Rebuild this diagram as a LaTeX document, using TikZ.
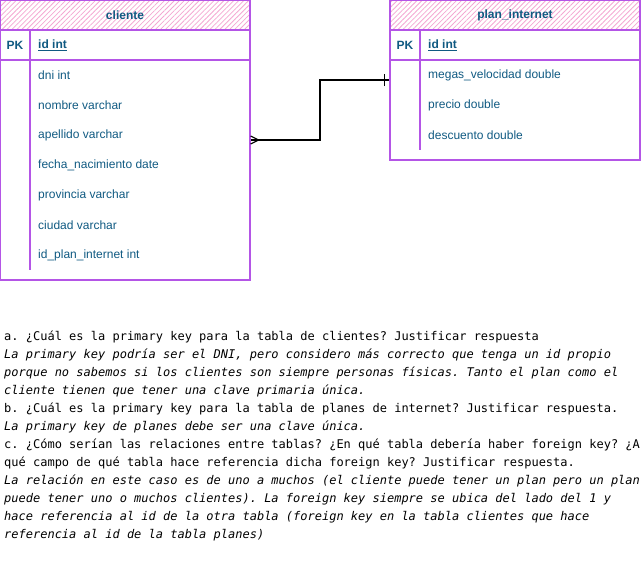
\documentclass[tikz,border=0pt]{standalone}
\usepackage{fontspec}
\setmainfont{Liberation Sans}
\newfontfamily\monofont{DejaVu Sans Mono}
\usetikzlibrary{patterns.meta}
\definecolor{tblborder}{HTML}{B455E6}
\definecolor{hatch}{HTML}{F4A7D2}
\definecolor{fieldtxt}{HTML}{105A82}
\tikzset{
  x=1pt,y=-1pt,
  tblbox/.style={draw=tblborder,line width=1.1pt,inner sep=0pt,minimum width=250pt},
  hdrbox/.style={tblbox,pattern={Lines[angle=45,distance=3.5pt,line width=0.8pt]},pattern color=hatch,minimum height=30pt},
  hdrtxt/.style={text=fieldtxt,font=\fontsize{12}{14}\selectfont\bfseries,inner sep=0pt},
  fieldtxt/.style={text=fieldtxt,font=\fontsize{12}{14}\selectfont,anchor=west,inner sep=0pt},
  divider/.style={draw=tblborder,line width=1.1pt},
  conn/.style={draw=black,line width=1.1pt},
  qline/.style={anchor=base west,inner sep=0pt,font=\monofont\frenchspacing\fontsize{12}{18}\selectfont},
  aline/.style={qline,font=\monofont\frenchspacing\itshape\fontsize{12}{18}\selectfont},
}
\begin{document}
\frenchspacing
\begin{tikzpicture}
\useasboundingbox (0,0) rectangle (641,571);
% ---------- cliente ----------
\node[hdrbox] (ch) at (125,15) {};
\node[hdrtxt] (cht) at (ch.center) {cliente};
\node[tblbox,minimum height=30pt] (cpk) at (125,45) {};
\node[tblbox,minimum height=220pt] (cb) at (125,170) {};
\draw[divider] (30,30) coordinate (cd1) -- (30,270) coordinate (cd2);
\node[hdrtxt] (cpkl) at (15,45) {PK};
\node[fieldtxt,font=\fontsize{12}{14}\selectfont\bfseries] (cid) at (38,45.5) {\underline{id int}};
\node[fieldtxt] (c1) at (38,75.5) {dni int};
\node[fieldtxt] (c2) at (38,105.5) {nombre varchar};
\node[fieldtxt] (c3) at (38,135.5) {apellido varchar};
\node[fieldtxt] (c4) at (38,165.5) {fecha\_nacimiento date};
\node[fieldtxt] (c5) at (38,195.5) {provincia varchar};
\node[fieldtxt] (c6) at (38,225.5) {ciudad varchar};
\node[fieldtxt] (c7) at (38,255.5) {id\_plan\_internet int};
% ---------- plan_internet ----------
\node[hdrbox] (ph) at (515,15) {};
\node[hdrtxt] (pht) at (ph.center) {plan\_internet};
\node[tblbox,minimum height=30pt] (ppk) at (515,45) {};
\node[tblbox,minimum height=100pt] (pb) at (515,110) {};
\draw[divider] (420,30) coordinate (pd1) -- (420,150) coordinate (pd2);
\node[hdrtxt] (ppkl) at (405,45) {PK};
\node[fieldtxt,font=\fontsize{12}{14}\selectfont\bfseries] (pid) at (428,45.5) {\underline{id int}};
\node[fieldtxt] (p1) at (428,75.5) {megas\_velocidad double};
\node[fieldtxt] (p2) at (428,105.5) {precio double};
\node[fieldtxt] (p3) at (428,135.5) {descuento double};
% ---------- connector ----------
\coordinate (cA) at (cb.east |- 0,140);
\coordinate (pA) at (pb.west |- 0,80);
\coordinate (mid) at (320,110);
\draw[conn] (cA) -- (cA -| mid) -- (mid |- pA) -- (pA);
\draw[conn] ([xshift=8pt]cA) -- ([yshift=-4pt]cA);
\draw[conn] ([xshift=8pt]cA) -- ([yshift=4pt]cA);
\draw[conn] ([xshift=-5pt,yshift=-6pt]pA) -- ([xshift=-5pt,yshift=6pt]pA);
% ---------- text ----------
\node[qline] (t1) at (4,340) {a. ¿Cuál es la primary key para la tabla de clientes? Justificar respuesta};
\node[aline] (t2) at (4,358) {La primary key podría ser el DNI, pero considero más correcto que tenga un id propio};
\node[aline] (t3) at (4,376) {porque no sabemos si los clientes son siempre personas físicas. Tanto el plan como el};
\node[aline] (t4) at (4,394) {cliente tienen que tener una clave primaria única.};
\node[qline] (t5) at (4,412) {b. ¿Cuál es la primary key para la tabla de planes de internet? Justificar respuesta.};
\node[aline] (t6) at (4,430) {La primary key de planes debe ser una clave única.};
\node[qline] (t7) at (4,448) {c. ¿Cómo serían las relaciones entre tablas? ¿En qué tabla debería haber foreign key? ¿A};
\node[qline] (t8) at (4,466) {qué campo de qué tabla hace referencia dicha foreign key? Justificar respuesta.};
\node[aline] (t9) at (4,484) {La relación en este caso es de uno a muchos (el cliente puede tener un plan pero un plan};
\node[aline] (t10) at (4,502) {puede tener uno o muchos clientes). La foreign key siempre se ubica del lado del 1 y};
\node[aline] (t11) at (4,520) {hace referencia al id de la otra tabla (foreign key en la tabla clientes que hace};
\node[aline] (t12) at (4,538) {referencia al id de la tabla planes)};
\end{tikzpicture}
\end{document}
